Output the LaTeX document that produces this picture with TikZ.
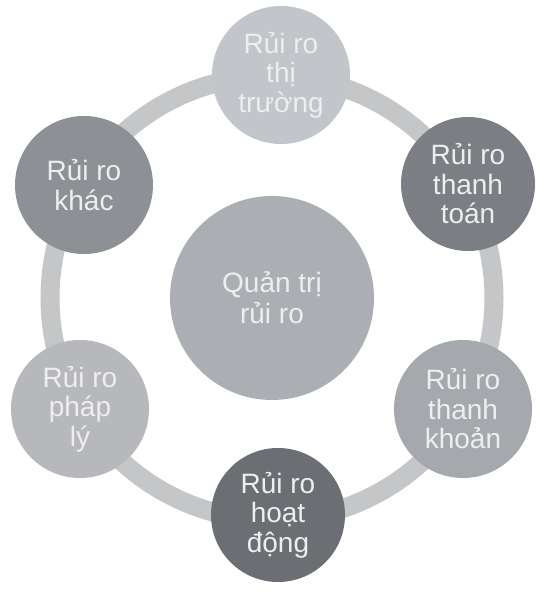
\documentclass[tikz,border=0pt]{standalone}
\usepackage{fontspec}
\setmainfont{Liberation Sans}
\definecolor{ringc}{HTML}{C4C6C8}
\definecolor{cTop}{HTML}{C2C5C9}
\definecolor{cTT}{HTML}{7B7F83}
\definecolor{cKhac}{HTML}{8D9195}
\definecolor{cCenter}{HTML}{ABAFB4}
\definecolor{cPL}{HTML}{B6B8BC}
\definecolor{cTK}{HTML}{A5A9AD}
\definecolor{cHD}{HTML}{6B6E72}
\definecolor{txt}{HTML}{EEEEEE}
\begin{document}
\begin{tikzpicture}[x=1pt,y=1pt,
  bubble/.style={circle,minimum size=138pt,inner sep=0pt,text=txt,align=center,
    font=\fontsize{28}{29.5}\selectfont},
  ring/.style={draw=ringc,line width=19pt}]
\useasboundingbox (0,0) rectangle (541,596);
\fill[white] (0,0) rectangle (541,596);
\coordinate (o) at (272,298);
\draw[ring] (o) circle[radius=222];
\node[bubble,minimum size=204pt,fill=cCenter,font=\fontsize{28}{31}\selectfont] (c) at (o) {Quản trị\\rủi ro};
\node[bubble,fill=cTop] (tt) at (281,521) {Rủi ro\\thị\\trường};
\node[bubble,fill=cTT,minimum size=134pt] (tto) at (468,412) {Rủi ro\\thanh\\toán};
\node[bubble,fill=cTK] (tk) at (463,187) {Rủi ro\\thanh\\khoản};
\node[bubble,fill=cHD,minimum size=134pt] (hd) at (278,81) {Rủi ro\\hoạt\\động};
\node[bubble,fill=cPL] (pl) at (80,187) {Rủi ro\\pháp\\lý};
\node[bubble,fill=cKhac] (kh) at (84,411) {Rủi ro\\khác};
\end{tikzpicture}
\end{document}
